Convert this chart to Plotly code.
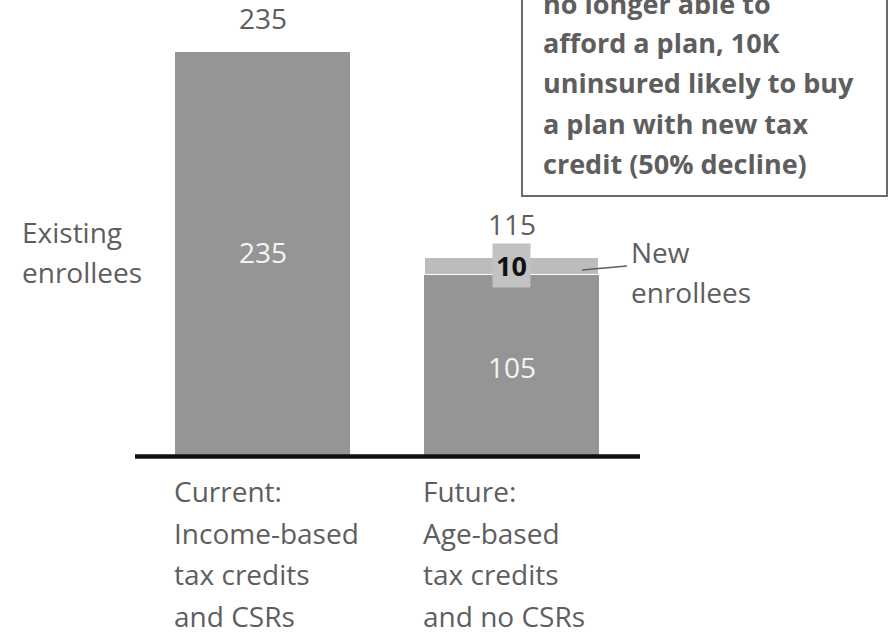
import plotly.graph_objects as go

# ---- data ----
categories = ["Current", "Future"]
existing = [235, 105]
new_enrollees = [0, 10]
totals = [235, 115]
cat_label_lines = [
    ["Current:", "Income-based", "tax credits", "and CSRs"],
    ["Future:", "Age-based", "tax credits", "and no CSRs"],
]
existing_label = ["Existing", "enrollees"]
new_label = ["New", "enrollees"]
box_lines = ["no longer able to", "afford a plan, 10K", "uninsured likely to buy",
             "a plan with new tax", "credit (50% decline)"]

GREY_TXT = "#5e5e5e"
BAR = "#959595"
NEW = "#bcbcbc"
FONT = "Open Sans"

xs = [0, 1]
bw = 0.703

W, H = 894, 636
ML, MR, MT, MB = 135, 254, 8, 181
PW, PH = W - ML - MR, H - MT - MB


def px_x(p):
    return (p - ML) / PW


def px_y(p):
    return (H - p - MB) / PH


fig = go.Figure()
fig.add_trace(go.Bar(x=xs, y=existing, width=bw, marker=dict(color=BAR, line=dict(width=0)),
                     showlegend=False, hoverinfo="skip"))
fig.add_trace(go.Bar(x=xs, y=new_enrollees, width=bw,
                     marker=dict(color=NEW, line=dict(color="white", width=1.5)),
                     showlegend=False, hoverinfo="skip"))

ann = []
# totals above bars
for x, t in zip(xs, totals):
    ann.append(dict(x=x, y=t, xref="x", yref="y", text=str(t), showarrow=False,
                    yanchor="bottom", yshift=12, font=dict(family=FONT, size=28, color=GREY_TXT)))
# inner labels (existing)
ann.append(dict(x=0, y=118, xref="x", yref="y", text=str(existing[0]), showarrow=False,
                font=dict(family=FONT, size=28, color="#f4f4f4")))
ann.append(dict(x=1, y=51, xref="x", yref="y", text=str(existing[1]), showarrow=False,
                font=dict(family=FONT, size=28, color="#f4f4f4")))
# new enrollees value
ann.append(dict(x=1, y=existing[1] + new_enrollees[1] / 2, xref="x", yref="y",
                text="<b>" + str(new_enrollees[1]) + "</b>", showarrow=False,
                font=dict(family=FONT, size=27, color="#111111"),
                bgcolor="#c2c2c2", borderpad=3))
# side labels
for i, line in enumerate(existing_label):
    ann.append(dict(x=px_x(20), y=px_y(232 + i * 40), xref="paper", yref="paper", text=line,
                    showarrow=False, xanchor="left", yanchor="middle",
                    font=dict(family=FONT, size=28, color=GREY_TXT)))
for i, line in enumerate(new_label):
    ann.append(dict(x=px_x(629), y=px_y(252 + i * 40), xref="paper", yref="paper", text=line,
                    showarrow=False, xanchor="left", yanchor="middle",
                    font=dict(family=FONT, size=28, color=GREY_TXT)))
# category labels
for x, lines in zip(xs, cat_label_lines):
    for i, line in enumerate(lines):
        ann.append(dict(x=x - bw / 2, y=px_y(491 + i * 41.5), xref="x", yref="paper", text=line,
                        showarrow=False, xanchor="left", yanchor="middle", xshift=-3,
                        font=dict(family=FONT, size=28, color=GREY_TXT)))
# box text
for i, line in enumerate(box_lines):
    ann.append(dict(x=px_x(541), y=px_y(3 + i * 40), xref="paper", yref="paper",
                    text="<b>" + line + "</b>",
                    showarrow=False, xanchor="left", yanchor="middle",
                    font=dict(family=FONT, size=27, color=GREY_TXT)))

shapes = [
    # baseline
    dict(type="line", xref="paper", yref="paper", x0=0, x1=1, y0=px_y(456.5), y1=px_y(456.5),
         line=dict(color="#111111", width=4.5)),
    # leader line to New enrollees
    dict(type="line", xref="paper", yref="paper",
         x0=px_x(582), x1=px_x(627), y0=px_y(270), y1=px_y(266),
         line=dict(color=GREY_TXT, width=1.5)),
    # text box
    dict(type="rect", xref="paper", yref="paper",
         x0=px_x(522), x1=px_x(887), y0=px_y(196), y1=px_y(-10),
         line=dict(color="#6a6a6a", width=2), fillcolor="rgba(0,0,0,0)"),
]

fig.update_layout(
    barmode="stack",
    width=W, height=H,
    margin=dict(l=ML, r=MR, t=MT, b=MB, pad=0),
    paper_bgcolor="white", plot_bgcolor="white",
    xaxis=dict(range=[-(262.5 - ML) / 249, -(262.5 - ML) / 249 + PW / 249],
               visible=False, fixedrange=True),
    yaxis=dict(range=[0, PH / 1.719], visible=False, fixedrange=True),
    annotations=ann, shapes=shapes,
)
fig.write_html("out.html", post_script="document.body.style.margin='0';",
               config={"displayModeBar": False})
